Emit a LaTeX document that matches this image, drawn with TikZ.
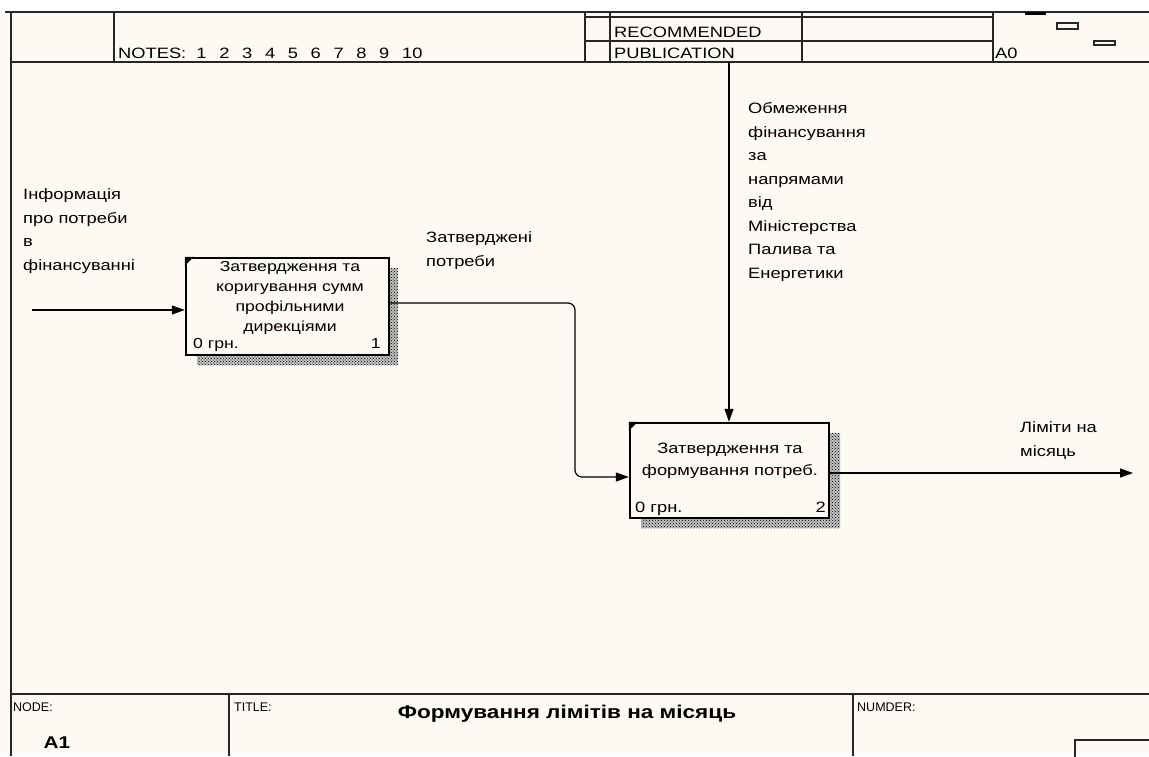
\documentclass[tikz,border=0pt]{standalone}
\usepackage{fontspec}
\setmainfont[FakeStretch=1.22]{Liberation Sans}
\newfontfamily\tagfont{Liberation Sans}
\usetikzlibrary{arrows.meta,patterns}
\definecolor{paper}{RGB}{253,250,243}

\begin{document}
\begin{tikzpicture}[x=1pt,y=-1pt,
	lbl/.style	= {font=\fontsize{15}{23.5}\selectfont, align=left, inner sep=0pt, anchor=base west},
	hdr/.style	= {font=\fontsize{15}{16}\selectfont, inner sep=0pt, anchor=base west},
	tag/.style	= {font=\tagfont\fontsize{12.5}{13}\selectfont, inner sep=0pt, anchor=base west},
	fnbox/.style	= {draw, line width=2.4pt, fill=paper, inner sep=0pt},
	fntext/.style	= {font=\fontsize{14.5}{20}\selectfont, align=center, inner sep=0pt, anchor=base},
	shade/.style	= {pattern=crosshatch dots, pattern color=black},
	flow/.style	= {-{Triangle[length=13pt,width=9pt]}, line width=1.2pt},
	frame/.style	= {line width=1.3pt, draw=black!85}]
	\useasboundingbox (0,0) rectangle (1149,756);
	\fill[paper] (0,12) rectangle (1149,756);

	% form frame
	\draw[frame] (5,12) -- (1149,12);
	\draw[frame] (11,12) -- (11,756);
	\draw[frame] (11,62) -- (1149,62);
	\draw[frame] (114,12) -- (114,62);
	\draw[frame] (585,12) -- (585,62);
	\draw[frame, line width=2pt] (610,12) -- (610,62);
	\draw[frame] (802,12) -- (802,62);
	\draw[frame] (993,12) -- (993,62);
	\draw[frame] (585,17) -- (993,17);
	\draw[frame] (585,41) -- (993,41);
	\fill (1025,12) rectangle (1046,14.5);
	\draw[frame] (1057,23) rectangle (1078,29);
	\draw[frame] (1094,41) rectangle (1115,45);
	\draw[frame] (11,694) -- (1149,694);
	\draw[frame] (229,694) -- (229,756);
	\draw[frame] (853,694) -- (853,756);
	\draw[frame] (1075,740) rectangle (1160,770);

	\node (notes)	at (118,58)	[hdr]	{NOTES:\ \ 1\ \ \,2\ \ \,3\ \ \,4\ \ \,5\ \ \,6\ \ \,7\ \ \,8\ \ \,9\ \ \,10};
	\node (recom)	at (614,37)	[hdr]	{RECOMMENDED};
	\node (publ)	at (614,58)	[hdr]	{PUBLICATION};
	\node (sheet)	at (995,58)	[hdr]	{A0};
	\node (nodetag)	at (13,711)	[tag]	{NODE:};
	\node (titletag)	at (234,711)	[tag]	{TITLE:};
	\node (numtag)	at (857,711)	[tag]	{NUMDER:};
	\node (nodeno)	at (57,748)	[font=\bfseries\fontsize{17}{20}\selectfont, inner sep=0pt, anchor=base]	{A1};
	\node (title)	at (567,718)	[font=\bfseries\fontsize{18.5}{20}\selectfont, inner sep=0pt, anchor=base]	{Формування лімітів на місяць};

	% activity boxes
	\fill[black!25] (197,268) rectangle (398,365);
	\fill[shade] (197,268) rectangle (398,365);
	\node (F1) at (287.5,306.5)	[fnbox, minimum width=203pt, minimum height=97pt]	{};
	\fill (F1.north west) -- ++(9,0) -- ++(-9,9) -- cycle;
	\node (F1name) at (290,331)	[fntext]	{Затвердження та\\коригування сумм\\профільними\\дирекціями};
	\node (F1cost) at (193,348)	[fntext, anchor=base west]	{0 грн.};
	\node (F1no)   at (381,348)	[fntext, anchor=base east]	{1};

	\fill[black!25] (641,433) rectangle (840,528);
	\fill[shade] (641,433) rectangle (840,528);
	\node (F2) at (729.5,470.5)	[fnbox, minimum width=199pt, minimum height=95pt]	{};
	\fill (F2.north west) -- ++(9,0) -- ++(-9,9) -- cycle;
	\node (F2name) at (730,475)	[fntext, font=\fontsize{15}{22}\selectfont]	{Затвердження та\\формування потреб.};
	\node (F2cost) at (635,512)	[fntext, anchor=base west, font=\fontsize{15}{22}\selectfont]	{0 грн.};
	\node (F2no)   at (826,512)	[fntext, anchor=base east, font=\fontsize{15}{22}\selectfont]	{2};

	% arrows
	\coordinate (in1) at (32,310);
	\coordinate (bend) at (575,477);
	\coordinate (ctl) at (729,62);
	\coordinate (out2) at (1133,473);
	\draw[flow] (in1) -- (in1 -| F1.west);
	\draw[flow, rounded corners=7pt] ([yshift=3.5pt]F1.east) -| (bend) -- (bend -| F2.west);
	\draw[flow] (ctl) -- (ctl |- F2.north);
	\draw[flow] ([yshift=-2.5pt]F2.east) -- (out2);

	\node (inlbl)	at (23,270)	[lbl]	{Інформація\\про потреби\\в\\фінансуванні};
	\node (midlbl)	at (426,266)	[lbl]	{Затверджені\\потреби};
	\node (ctllbl)	at (748,278)	[lbl]	{Обмеження\\фінансування\\за\\напрямами\\від\\Міністерства\\Палива та\\Енергетики};
	\node (outlbl)	at (1020,456)	[lbl]	{Ліміти на\\місяць};
\end{tikzpicture}
\end{document}
